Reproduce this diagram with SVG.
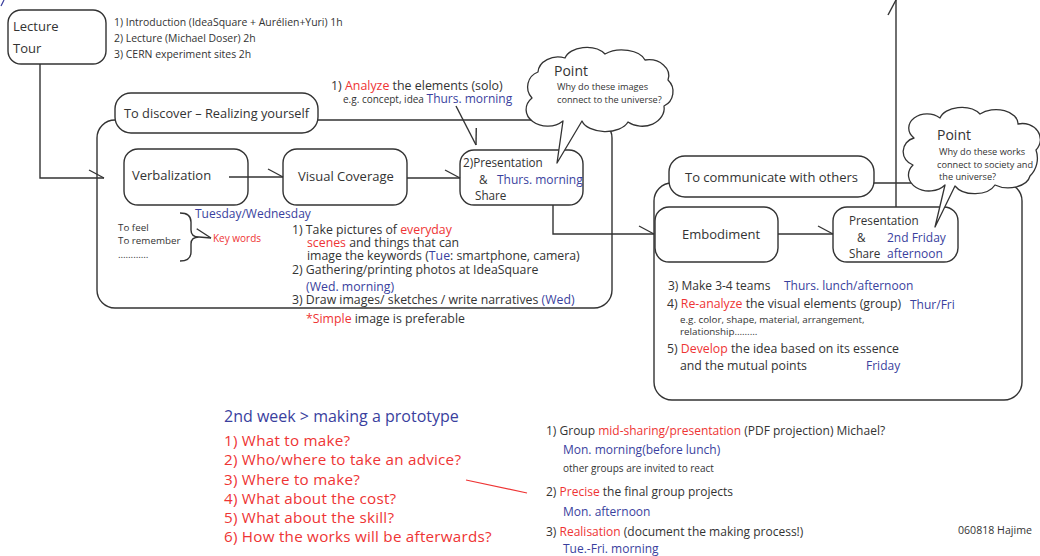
<svg xmlns="http://www.w3.org/2000/svg" width="1040" height="556" viewBox="0 0 1040 556">
<defs>
<style>
text{font-family:"Open Sans","Liberation Sans",sans-serif;fill:#333;}
.box{fill:#fff;stroke:#333;stroke-width:1.4;}
.frame{fill:none;stroke:#333;stroke-width:1.4;}
.con{fill:none;stroke:#333;stroke-width:1.4;}
.cloud{fill:#fff;stroke:#333;stroke-width:1.3;stroke-linejoin:round;}
.b{fill:#3a3f9e;}
.r{fill:#ee3434;}
.s10{font-size:10px;}
.s12{font-size:12px;}
.p12{font-size:11.7px;}
.n12{font-size:12.3px;}
.s13{font-size:13px;}
.pt{font-size:14px;}
.ct{font-size:9.2px;}
.red{font-size:15.2px;letter-spacing:0.25px;fill:#ee3434;}
</style>
<marker id="barb" viewBox="-16 -10 20 20" markerWidth="20" markerHeight="20" refX="0" refY="0" orient="auto" markerUnits="userSpaceOnUse" overflow="visible">
<path d="M-15,-8 L0,0" fill="none" stroke="#333" stroke-width="1.4"/>
</marker>
</defs>
<rect width="1040" height="556" fill="#fff"/>
<path d="M1,6 L4,0" stroke="#3a3f9e" stroke-width="1.2" fill="none"/>

<g id="lecture">
<rect class="box" x="8" y="10" width="98" height="54" rx="13"/>
<text x="13" y="31" class="s13">Lecture</text>
<text x="13" y="53" class="s13">Tour</text>
</g>
<g id="lecture-notes" style="font-size:10.45px">
<text x="114" y="26">1) Introduction (IdeaSquare + Aurélien+Yuri) 1h</text>
<text x="114" y="42">2) Lecture (Michael Doser) 2h</text>
<text x="114" y="58">3) CERN experiment sites 2h</text>
</g>

<g id="discover">
<rect class="frame" x="97" y="120" width="515" height="188" rx="18"/>
<rect class="box" x="115" y="93" width="203" height="40" rx="16"/>
<text x="216.5" y="118" style="font-size:12.8px" text-anchor="middle">To discover – Realizing yourself</text>
</g>

<g id="verbalization">
<rect class="box" x="124" y="149" width="124" height="56" rx="14"/>
<text x="132" y="180" class="s13">Verbalization</text>
</g>
<g id="visual-coverage">
<rect class="box" x="283" y="149" width="124" height="56" rx="14"/>
<text x="298" y="181" class="s13">Visual Coverage</text>
</g>
<g id="presentation1">
<rect class="box" x="460" y="150" width="123" height="55" rx="14"/>
<text x="463" y="167" class="p12">2)Presentation</text>
<text x="479" y="183.5" class="p12">&amp;</text>
<text x="497" y="183.5" class="s12 b">Thurs. morning</text>
<text x="475" y="199.5" class="p12">Share</text>
</g>

<g id="analyze">
<text x="331" y="90" style="font-size:12.4px">1) <tspan class="r">Analyze</tspan> the elements (solo)</text>
<text x="343" y="103" class="s10">e.g. concept, idea <tspan class="s12 b">Thurs. morning</tspan></text>
</g>

<g id="discover-notes">
<text x="195" y="217.5" class="s12 b">Tuesday/Wednesday</text>
<text x="118" y="230.5" style="font-size:9.8px">To feel</text>
<text x="118" y="244" style="font-size:9.8px">To remember</text>
<text x="118" y="257.5" style="font-size:9.8px">…………</text>
<text x="213" y="242" class="s10 r">Key words</text>
<text x="292" y="234" class="n12">1) Take pictures of <tspan class="r">everyday</tspan></text>
<text x="307" y="246.5" class="n12"><tspan class="r">scenes</tspan> and things that can</text>
<text x="307" y="260" class="n12">image the keywords (<tspan class="b">Tue</tspan>: smartphone, camera)</text>
<text x="292" y="274" class="n12">2) Gathering/printing photos at IdeaSquare</text>
<text x="306" y="291" class="n12 b">(Wed. morning)</text>
<text x="292" y="304" class="n12">3) Draw images/ sketches / write narratives <tspan class="b">(Wed)</tspan></text>
<text x="306" y="323" class="n12"><tspan class="r">*Simple</tspan> image is preferable</text>
</g>

<g id="communicate">
<rect class="frame" x="654" y="183" width="368" height="217" rx="18"/>
<rect class="box" x="669" y="156" width="205" height="41" rx="16"/>
<text x="771.5" y="182" class="s13" text-anchor="middle">To communicate with others</text>
</g>
<g id="embodiment">
<rect class="box" x="655" y="207" width="123" height="55" rx="14"/>
<text x="682" y="239" class="s13">Embodiment</text>
</g>
<g id="presentation2">
<rect class="box" x="833" y="207" width="125" height="55" rx="14"/>
<text x="849" y="225" class="p12">Presentation</text>
<text x="857" y="241.5" class="p12">&amp;</text>
<text x="849" y="257.5" class="p12">Share</text>
<text x="887" y="241.5" class="s12 b">2nd Friday</text>
<text x="887" y="257.5" class="s12 b">afternoon</text>
</g>

<g id="communicate-notes">
<text x="668" y="290" class="s12">3) Make 3-4 teams</text>
<text x="784" y="290" class="s12 b">Thurs. lunch/afternoon</text>
<text x="667" y="308" class="n12">4) <tspan class="r">Re-analyze</tspan> the visual elements (group)</text>
<text x="910" y="309" class="s12 b">Thur/Fri</text>
<text x="680" y="322.5" style="font-size:9.8px">e.g. color, shape, material, arrangement,</text>
<text x="680" y="335" style="font-size:9.8px">relationship………</text>
<text x="667" y="353" class="n12">5) <tspan class="r">Develop</tspan> the idea based on its essence</text>
<text x="680" y="370" class="n12">and the mutual points</text>
<text x="866" y="370" class="s12 b">Friday</text>
</g>

<g id="connectors">
<path class="con" d="M40,64 V178 H104" marker-end="url(#barb)"/>
<path class="con" d="M229,177 H283" marker-end="url(#barb)"/>
<path class="con" d="M407,178 H460" marker-end="url(#barb)"/>
<path class="con" d="M553,205 V234 H654" marker-end="url(#barb)"/>
<path class="con" d="M778,234 H833" marker-end="url(#barb)"/>
<path class="con" d="M896,207 V0" marker-end="url(#barb)"/>
<path class="con" d="M456,106 L476,145" marker-end="url(#barb)"/>
<path class="con" d="M180,213 Q191,213 191,222 L191,230 Q191,237 199,237 Q191,237 191,244 L191,252 Q191,261 180,261"/>
<path class="con" d="M199,237 L211,238" marker-end="url(#barb)"/>
<path d="M466,480 L527,493" fill="none" stroke="#ee3434" stroke-width="1.2"/>
</g>

<g id="point1">
<path class="cloud" d="M563,121 L557,163 L582,121 A24,14 0 0 0 628,122 A22,18 0 0 0 664,106 A16,16 0 0 0 668,80 A20,16 0 0 0 645,60 A24,14 0 0 0 605,54 A22,14 0 0 0 565,58 A20,16 0 0 0 538,72 A16,16 0 0 0 532,98 A18,14 0 0 0 563,121 Z"/>
<text x="554" y="76" class="pt">Point</text>
<text x="557" y="90" class="ct">Why do these images</text>
<text x="557" y="103" class="ct">connect to the universe?</text>
</g>

<g id="point2">
<path class="cloud" d="M945,185 L935,227 L955,186 A22,14 0 0 0 995,185 A22,14 0 0 0 1030,176 A25,25 0 0 0 1036,150 A18,16 0 0 0 1018,124 A22,14 0 0 0 980,114 A22,14 0 0 0 940,118 A18,14 0 0 0 914,138 A14,14 0 0 0 913,165 A18,14 0 0 0 945,185 Z"/>
<text x="937" y="140" class="pt">Point</text>
<text x="939" y="155" class="ct">Why do these works</text>
<text x="937" y="167.5" class="ct">connect to society and</text>
<text x="939" y="180" class="ct"> the universe?</text>
</g>

<g id="week2">
<text x="224" y="422" style="font-size:16px" class="b">2nd week &gt; making a prototype</text>
<text x="224" y="446" class="red">1) What to make?</text>
<text x="224" y="465" class="red">2) Who/where to take an advice?</text>
<text x="224" y="485" class="red">3) Where to make?</text>
<text x="224" y="504" class="red">4) What about the cost?</text>
<text x="224" y="523" class="red">5) What about the skill?</text>
<text x="224" y="542" class="red">6) How the works will be afterwards?</text>
</g>

<g id="week2-plan">
<text x="546" y="435" class="s12">1) Group <tspan class="r">mid-sharing/presentation</tspan> (PDF projection) Michael?</text>
<text x="563" y="454" class="s12 b">Mon. morning(before lunch)</text>
<text x="563" y="472" class="s10">other groups are invited to react</text>
<text x="546" y="496" class="s12">2) <tspan class="r">Precise</tspan> the final group projects</text>
<text x="563" y="516" class="s12 b">Mon. afternoon</text>
<text x="546" y="536" class="s12">3) <tspan class="r">Realisation</tspan> (document the making process!)</text>
<text x="563" y="553" class="s12 b">Tue.-Fri. morning</text>
<text x="958" y="534" style="font-size:10.6px">060818 Hajime</text>
</g>
</svg>
